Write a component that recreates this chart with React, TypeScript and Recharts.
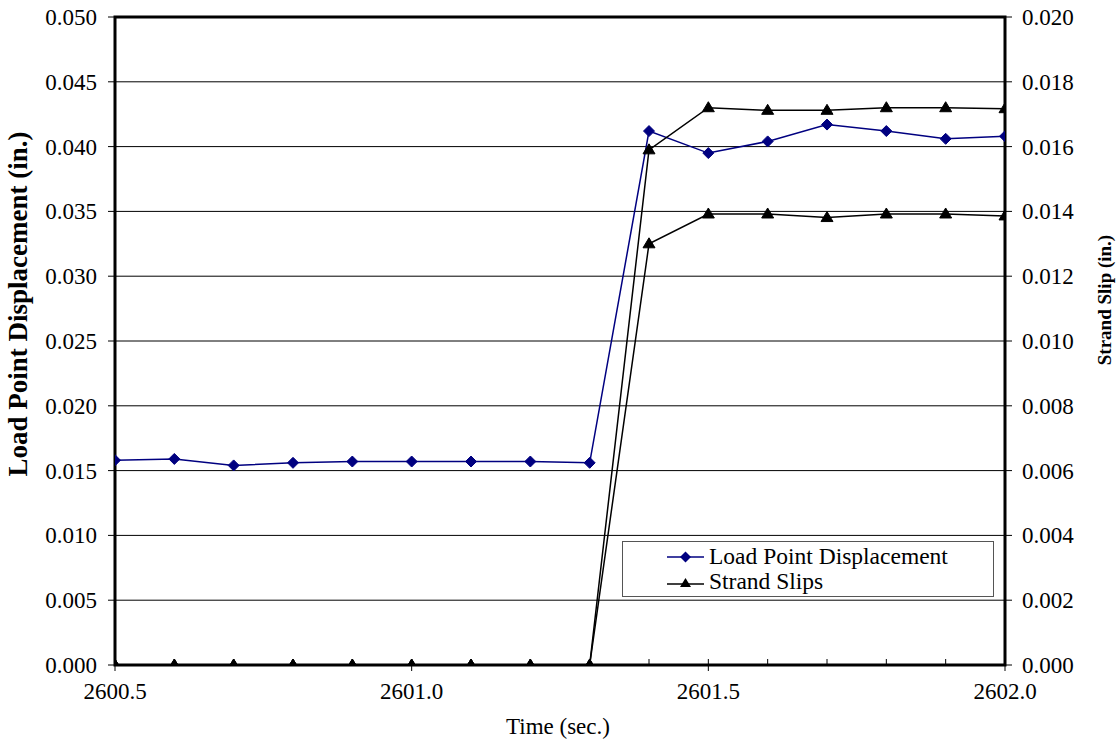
import React from 'react';
import { ComposedChart, Line, XAxis, YAxis, CartesianGrid, ReferenceArea, Legend } from 'recharts';

const times = [2600.5, 2600.6, 2600.7, 2600.8, 2600.9, 2601.0, 2601.1, 2601.2, 2601.3, 2601.4, 2601.5, 2601.6, 2601.7, 2601.8, 2601.9, 2602.0];
const loadPointDisp = [0.0158, 0.0159, 0.0154, 0.0156, 0.0157, 0.0157, 0.0157, 0.0157, 0.0156, 0.0412, 0.0395, 0.0404, 0.0417, 0.0412, 0.0406, 0.0408];
const strandSlipA = [0, 0, 0, 0, 0, 0, 0, 0, 0, 0.0159, 0.0172, 0.01712, 0.01712, 0.0172, 0.0172, 0.01717];
const strandSlipB = [0, 0, 0, 0, 0, 0, 0, 0, 0, 0.0130, 0.01392, 0.01392, 0.01381, 0.01392, 0.01392, 0.01386];
const xTicks = times;
const xMajorLabels = [2600.5, 2601.0, 2601.5, 2602.0];
const leftTicks = [0, 0.005, 0.01, 0.015, 0.02, 0.025, 0.03, 0.035, 0.04, 0.045, 0.05];
const rightTicks = [0, 0.002, 0.004, 0.006, 0.008, 0.01, 0.012, 0.014, 0.016, 0.018, 0.02];

const data = times.map((t, i) => ({ t, lpd: loadPointDisp[i], sa: strandSlipA[i], sb: strandSlipB[i] }));

const FONT = '"Liberation Serif", "Times New Roman", serif';
const TICK_FS = 23;

const Diamond = (props: any) => {
  const { cx, cy } = props;
  if (cx == null || cy == null) return null;
  const r = 5.5;
  return <polygon points={`${cx},${cy - r} ${cx + r},${cy} ${cx},${cy + r} ${cx - r},${cy}`} fill="#000080" stroke="#000080" />;
};

const Triangle = (props: any) => {
  const { cx, cy } = props;
  if (cx == null || cy == null) return null;
  return <polygon points={`${cx},${cy - 6} ${cx + 6},${cy + 4} ${cx - 6},${cy + 4}`} fill="#000" stroke="#000" />;
};

const XTick = (props: any) => {
  const { x, y, payload } = props;
  const v = payload.value;
  const major = xMajorLabels.some((m) => Math.abs(m - v) < 1e-6);
  return (
    <g>
      {major ? (
        <line x1={x} x2={x} y1={y - 6} y2={y + 6} stroke="#000" strokeWidth={1} />
      ) : (
        <line x1={x} x2={x} y1={y - 6} y2={y} stroke="#000" strokeWidth={1} />
      )}
      {major && (
        <text x={x} y={y + 34} textAnchor="middle" fontFamily={FONT} fontSize={TICK_FS} fill="#000">
          {v.toFixed(1)}
        </text>
      )}
    </g>
  );
};

const LeftTick = (props: any) => {
  const { y, payload } = props;
  return (
    <g>
      <line x1={115} x2={108} y1={y} y2={y} stroke="#000" strokeWidth={1} />
      <text x={97} y={y} dy="0.35em" textAnchor="end" fontFamily={FONT} fontSize={TICK_FS} fill="#000">
        {payload.value.toFixed(3)}
      </text>
    </g>
  );
};

const RightTick = (props: any) => {
  const { y, payload } = props;
  return (
    <g>
      <line x1={1005} x2={1012} y1={y} y2={y} stroke="#000" strokeWidth={1} />
      <text x={1022} y={y} dy="0.35em" textAnchor="start" fontFamily={FONT} fontSize={TICK_FS} fill="#000">
        {payload.value.toFixed(3)}
      </text>
    </g>
  );
};

const LegendBox = () => (
  <div
    style={{
      width: 372,
      height: 56,
      border: '1px solid #555',
      background: '#fff',
      fontFamily: FONT,
      fontSize: 23.5,
      color: '#000',
      boxSizing: 'border-box',
      paddingLeft: 44,
      paddingTop: 2,
      lineHeight: '25px',
    }}
  >
    <div style={{ display: 'flex', alignItems: 'center', height: 25 }}>
      <svg width={37} height={14} style={{ marginRight: 5 }}>
        <line x1={0} x2={37} y1={7} y2={7} stroke="#000080" strokeWidth={1.5} />
        <polygon points="18.5,1.5 24,7 18.5,12.5 13,7" fill="#000080" />
      </svg>
      <span>Load Point Displacement</span>
    </div>
    <div style={{ display: 'flex', alignItems: 'center', height: 25 }}>
      <svg width={37} height={14} style={{ marginRight: 5 }}>
        <line x1={0} x2={37} y1={9} y2={9} stroke="#000" strokeWidth={1.5} />
        <polygon points="18.5,3 24,12 13,12" fill="#000" />
      </svg>
      <span>Strand Slips</span>
    </div>
  </div>
);

export default function App() {
  return (
    <div style={{ position: 'absolute', left: 0, top: 0, width: 1117, height: 750, background: '#fff' }}>
      <ComposedChart width={1117} height={750} data={data} margin={{ top: 17, right: 0, bottom: 0, left: 0 }}>
        <CartesianGrid horizontal vertical={false} stroke="#000" strokeWidth={1} yAxisId="left" horizontalValues={leftTicks} />
        <XAxis
          dataKey="t"
          type="number"
          domain={[2600.5, 2602.0]}
          ticks={xTicks}
          interval={0}
          tick={<XTick />}
          tickLine={false}
          tickSize={0}
          tickMargin={0}
          axisLine={false}
          height={85}
          allowDataOverflow
          label={{
            content: () => (
              <text x={558} y={734} textAnchor="middle" fontFamily={FONT} fontSize={23} fill="#000">
                Time (sec.)
              </text>
            ),
          }}
        />
        <YAxis
          yAxisId="left"
          orientation="left"
          width={115}
          domain={[0, 0.05]}
          ticks={leftTicks}
          interval={0}
          tick={<LeftTick />}
          tickLine={false}
          tickSize={0}
          tickMargin={0}
          axisLine={false}
          allowDataOverflow
          label={{
            content: () => (
              <text transform="translate(27,304) rotate(-90)" textAnchor="middle" fontFamily={FONT} fontSize={27} fontWeight="bold" fill="#000">
                Load Point Displacement (in.)
              </text>
            ),
          }}
        />
        <YAxis
          yAxisId="right"
          orientation="right"
          width={112}
          domain={[0, 0.02]}
          ticks={rightTicks}
          interval={0}
          tick={<RightTick />}
          tickLine={false}
          tickSize={0}
          tickMargin={0}
          axisLine={false}
          allowDataOverflow
          label={{
            content: () => (
              <text transform="translate(1111,300) rotate(-90)" textAnchor="middle" fontFamily={FONT} fontSize={19} fontWeight="bold" fill="#000">
                Strand Slip (in.)
              </text>
            ),
          }}
        />
        <ReferenceArea yAxisId="left" x1={2600.5} x2={2602.0} y1={0} y2={0.05} fill="none" stroke="#000" strokeWidth={3} ifOverflow="visible" />
        <Line yAxisId="left" type="linear" dataKey="lpd" name="Load Point Displacement" stroke="#000080" strokeWidth={1.5} dot={<Diamond />} activeDot={false} isAnimationActive={false} />
        <Line yAxisId="right" type="linear" dataKey="sa" name="Strand Slips" stroke="#000" strokeWidth={1.5} dot={<Triangle />} activeDot={false} isAnimationActive={false} />
        <Line yAxisId="right" type="linear" dataKey="sb" name="Strand Slips" stroke="#000" strokeWidth={1.5} dot={<Triangle />} activeDot={false} isAnimationActive={false} legendType="none" />
        <Legend
          layout="horizontal"
          verticalAlign="middle"
          align="center"
          content={<LegendBox />}
          wrapperStyle={{ position: 'absolute', left: 622, top: 541, width: 372, height: 56 }}
        />
      </ComposedChart>
    </div>
  );
}
